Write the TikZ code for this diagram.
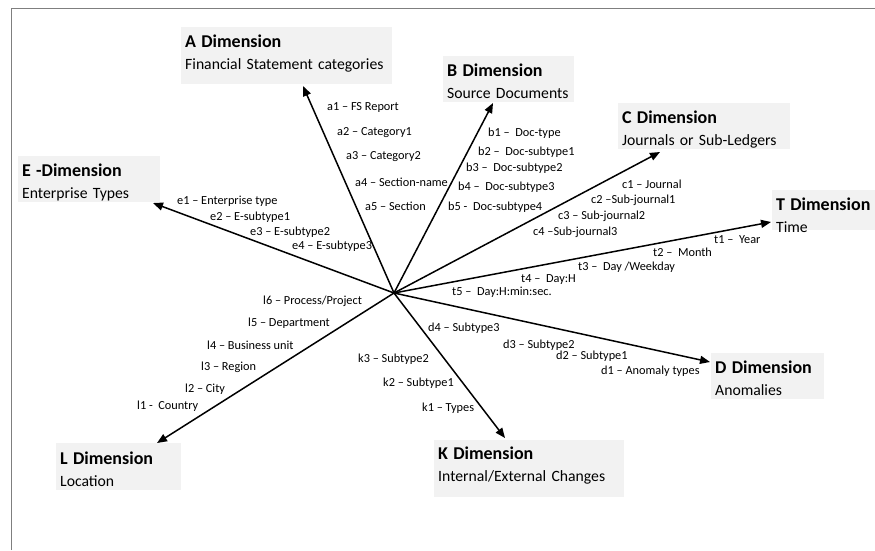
\documentclass[tikz,border=0pt]{standalone}
\usepackage{fontspec}
\setmainfont{Carlito}
\usepackage{tikz}
\usetikzlibrary{arrows.meta}
\definecolor{boxgray}{HTML}{F2F2F2}
\definecolor{framegray}{HTML}{7F7F7F}
\tikzset{
  dimbox/.style={
    fill=boxgray,
    anchor=north west,
    align=left,
    inner xsep=4pt,
    inner ysep=0pt,
    text height=0pt,
    font=\fontsize{15.7pt}{22pt}\selectfont
  },
  itemlabel/.style={
    anchor=west,
    inner sep=0pt,
    font=\fontsize{12.3pt}{14pt}\selectfont
  },
  dimarrow/.style={
    -{Triangle[length=10pt,width=8pt]},
    line width=1.5pt,
    draw=black
  },
  framestyle/.style={
    line width=1pt,
    draw=framegray
  }
}
\newcommand{\dimtitle}[1]{{\bfseries\fontsize{18pt}{22pt}\selectfont #1}}

\begin{document}
\begin{tikzpicture}[x=1pt, y=-1pt]
    \useasboundingbox (0,0) rectangle (875,550);
    \draw[framestyle] (11,550) -- (11,8) -- (875,8);

    % dimension boxes
    \node[dimbox, text width=203pt, minimum height=57pt, text depth=17pt] (dimA) at (181,27) {\dimtitle{A Dimension}\\ Financial Statement categories};
    \node[dimbox, text width=123pt, minimum height=46pt, text depth=6pt] (dimB) at (443,56) {\dimtitle{B Dimension}\\ Source Documents};
    \node[dimbox, text width=164pt, minimum height=46pt, text depth=6pt] (dimC) at (618,103) {\dimtitle{C Dimension}\\ Journals or Sub-Ledgers};
    \node[dimbox, text width=97pt, minimum height=40pt, text depth=0pt] (dimT) at (772,190) {\dimtitle{T Dimension}\\ Time};
    \node[dimbox, text width=134pt, minimum height=46pt, text depth=6pt] (dimE) at (18,156) {\dimtitle{E -Dimension}\\ Enterprise Types};
    \node[dimbox, text width=105pt, minimum height=46pt, text depth=6pt] (dimD) at (711,353) {\dimtitle{D Dimension}\\ Anomalies};
    \node[dimbox, text width=182pt, minimum height=57pt, text depth=19pt] (dimK) at (434,440) {\dimtitle{K Dimension}\\ Internal/External Changes};
    \node[dimbox, text width=117pt, minimum height=47pt, text depth=5pt] (dimL) at (56,443) {\dimtitle{L Dimension}\\ Location};

    % hub and arrow ends
    \coordinate (hub) at (394,293);
    \coordinate (atip) at (303,86);
    \coordinate (btip) at (493,103);
    \coordinate (ctip) at (660,152);
    \coordinate (ttip) at (771,222);
    \coordinate (dtip) at (710,362);
    \coordinate (ktip) at (505,438);
    \coordinate (ltip) at (157,443);
    \coordinate (etip) at (153,203);

    \draw[dimarrow] (hub) -- (atip);
    \draw[dimarrow] (hub) -- (btip);
    \draw[dimarrow] (hub) -- (ctip);
    \draw[dimarrow] (hub) -- (ttip);
    \draw[dimarrow] (hub) -- (dtip);
    \draw[dimarrow] (hub) -- (ktip);
    \draw[dimarrow] (hub) -- (ltip);
    \draw[dimarrow] (hub) -- (etip);

    % A items
    \node[itemlabel] (a1) at (327,107) {a1 – FS Report};
    \node[itemlabel] (a2) at (337,133) {a2 – Category1};
    \node[itemlabel] (a3) at (346,157) {a3 – Category2};
    \node[itemlabel] (a4) at (355,182) {a4 – Section-name};
    \node[itemlabel] (a5) at (365,206) {a5 – Section};

    % B items
    \node[itemlabel] (b1) at (488,133) {b1 – \ Doc-type};
    \node[itemlabel] (b2) at (478,152) {b2 – \ Doc-subtype1};
    \node[itemlabel] (b3) at (466,168) {b3 – \ Doc-subtype2};
    \node[itemlabel] (b4) at (458,187) {b4 – \ Doc-subtype3};
    \node[itemlabel] (b5) at (448,207) {b5 - \ Doc-subtype4};

    % C items
    \node[itemlabel] (c1) at (622,184) {c1 – Journal};
    \node[itemlabel] (c2) at (591,200) {c2 –Sub-journal1};
    \node[itemlabel] (c3) at (558,216) {c3 – Sub-journal2};
    \node[itemlabel] (c4) at (533,232) {c4 –Sub-journal3};

    % T items
    \node[itemlabel] (t1) at (714,240) {t1 – \ Year};
    \node[itemlabel] (t2) at (653,252) {t2 – \ Month};
    \node[itemlabel] (t3) at (578,267) {t3 – \ Day /Weekday};
    \node[itemlabel] (t4) at (521,280) {t4 – \ Day:H};
    \node[itemlabel] (t5) at (452,292) {t5 – \ Day:H:min:sec.};

    % D items
    \node[itemlabel] (d4) at (428,328) {d4 – Subtype3};
    \node[itemlabel] (d3) at (503,345) {d3 – Subtype2};
    \node[itemlabel] (d2) at (556,356) {d2 – Subtype1};
    \node[itemlabel] (d1) at (601,371) {d1 – Anomaly types};

    % K items
    \node[itemlabel] (k3) at (358,359) {k3 – Subtype2};
    \node[itemlabel] (k2) at (383,383) {k2 – Subtype1};
    \node[itemlabel] (k1) at (422,408) {k1 – Types};

    % L items
    \node[itemlabel] (l6) at (263,301) {l6 – Process/Project};
    \node[itemlabel] (l5) at (248,323) {l5 – Department};
    \node[itemlabel] (l4) at (207,345) {l4 – Business unit};
    \node[itemlabel] (l3) at (201,367) {l3 – Region};
    \node[itemlabel] (l2) at (185,389) {l2 – City};
    \node[itemlabel] (l1) at (137,406) {l1 - \ Country};

    % E items
    \node[itemlabel] (e1) at (177,201) {e1 – Enterprise type};
    \node[itemlabel] (e2) at (210,217) {e2 – E-subtype1};
    \node[itemlabel] (e3) at (250,232) {e3 – E-subtype2};
    \node[itemlabel] (e4) at (292,246) {e4 – E-subtype3};
\end{tikzpicture}
\end{document}
